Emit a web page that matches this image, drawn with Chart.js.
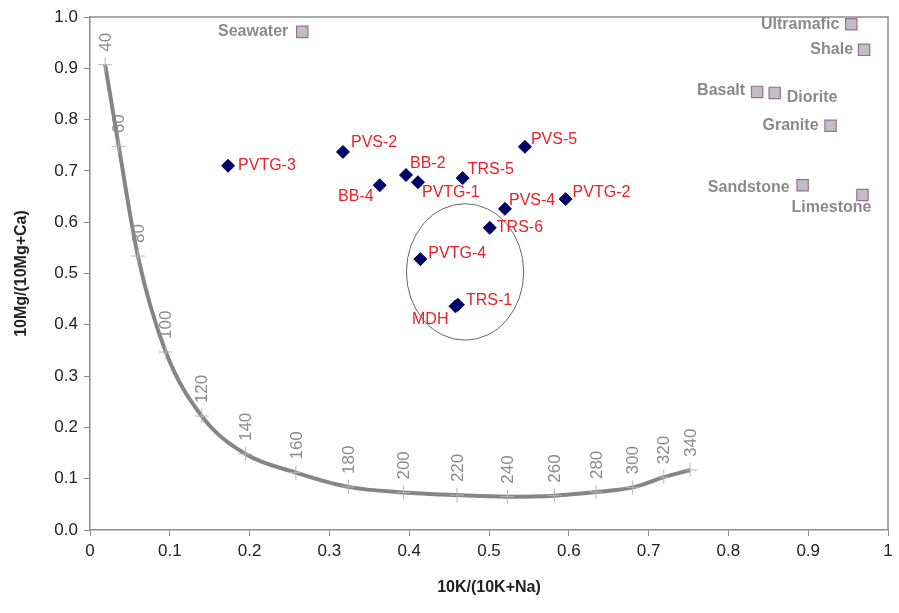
<!DOCTYPE html>
<html>
<head>
<meta charset="utf-8">
<script src="https://cdn.jsdelivr.net/npm/chart.js@4.4.1/dist/chart.umd.min.js"></script>
<style>
  html, body { margin: 0; padding: 0; background: #fff; }
  #wrap { width: 899px; height: 613px; }
</style>
</head>
<body>
<div id="wrap"><canvas id="c" width="899" height="613"></canvas></div>
<script>
// samples (navy diamonds)
const sampleNames = ["PVTG-3", "PVS-2", "BB-4", "BB-2", "PVTG-1", "TRS-5", "PVS-5", "PVS-4", "PVTG-2", "TRS-6", "PVTG-4", "TRS-1", "MDH"];
const sampleX = [0.173, 0.317, 0.363, 0.396, 0.411, 0.467, 0.545, 0.520, 0.596, 0.501, 0.414, 0.461, 0.458];
const sampleY = [0.710, 0.737, 0.672, 0.692, 0.678, 0.686, 0.747, 0.626, 0.645, 0.589, 0.528, 0.439, 0.436];

// reference rocks / waters (grey squares)
const refNames = ["Seawater", "Ultramafic", "Shale", "Basalt", "Diorite", "Granite", "Sandstone", "Limestone"];
const refX = [0.266, 0.954, 0.970, 0.836, 0.858, 0.928, 0.893, 0.968];
const refY = [0.971, 0.986, 0.936, 0.854, 0.852, 0.788, 0.672, 0.653];

// geothermometer curve (temperature, degC)
const tempLabels = [40, 60, 80, 100, 120, 140, 160, 180, 200, 220, 240, 260, 280, 300, 320, 340];
const curveX = [0.019, 0.036, 0.060, 0.095, 0.140, 0.195, 0.258, 0.324, 0.393, 0.460, 0.523, 0.582, 0.634, 0.680, 0.719, 0.752];
const curveY = [0.907, 0.748, 0.534, 0.347, 0.222, 0.148, 0.112, 0.084, 0.073, 0.068, 0.065, 0.067, 0.074, 0.083, 0.103, 0.117];

const xTicks = [0, 0.1, 0.2, 0.3, 0.4, 0.5, 0.6, 0.7, 0.8, 0.9, 1];

// label placement: [dx, dy, align]
const sampleLabelPos = [
  [10, 0, "left"], [8, -9, "left"], [-6, 11, "right"], [4, -11, "left"], [4, 10, "left"],
  [5, -8, "left"], [6, -7, "left"], [4, -8, "left"], [7, -7, "left"], [7, 0, "left"],
  [8, -6, "left"], [8, -4, "left"], [-7, 13, "right"]
];
const refLabelPos = [
  [-14, 0, "right"], [-12, 0, "right"], [-11, 0, "right"], [-12, -1, "right"],
  [12, 5, "left"], [-12, 0, "right"], [-13, 2, "right"], [-71, 13, "left"]
];

const pts = (xs, ys) => xs.map((x, i) => ({ x: x, y: ys[i] }));

const labelPlugin = {
  id: "labels",
  afterDatasetsDraw(chart) {
    const ctx = chart.ctx;
    const xs = chart.scales.x, ys = chart.scales.y;
    const ca = chart.chartArea;
    ctx.save();
    // plot frame
    ctx.strokeStyle = "#8c8c8c";
    ctx.lineWidth = 1.5;
    ctx.beginPath();
    ctx.moveTo(ca.left, ca.top);
    ctx.lineTo(ca.right, ca.top);
    ctx.lineTo(ca.right, ca.bottom);
    ctx.stroke();

    // circle around the sample cluster
    ctx.strokeStyle = "#666";
    ctx.lineWidth = 1;
    ctx.beginPath();
    const cx = xs.getPixelForValue(0.470), cy = ys.getPixelForValue(0.503);
    const rx = xs.getPixelForValue(0.470 + 0.0735) - cx;
    const ry = cy - ys.getPixelForValue(0.503 + 0.133);
    ctx.ellipse(cx, cy, rx, ry, 0, 0, Math.PI * 2);
    ctx.stroke();

    ctx.textBaseline = "middle";
    // sample labels
    ctx.font = "16px 'Liberation Sans', Arial, sans-serif";
    ctx.fillStyle = "#e8212b";
    sampleNames.forEach((n, i) => {
      const p = sampleLabelPos[i];
      ctx.textAlign = p[2];
      ctx.fillText(n, xs.getPixelForValue(sampleX[i]) + p[0], ys.getPixelForValue(sampleY[i]) + p[1]);
    });
    // reference labels
    ctx.font = "bold 16px 'Liberation Sans', Arial, sans-serif";
    ctx.fillStyle = "#8a8a8a";
    refNames.forEach((n, i) => {
      const p = refLabelPos[i];
      ctx.textAlign = p[2];
      ctx.fillText(n, xs.getPixelForValue(refX[i]) + p[0], ys.getPixelForValue(refY[i]) + p[1]);
    });
    // temperature labels along the curve
    ctx.font = "17px 'Liberation Sans', Arial, sans-serif";
    ctx.fillStyle = "#8a8a8a";
    ctx.textAlign = "left";
    tempLabels.forEach((t, i) => {
      const px = xs.getPixelForValue(curveX[i]) + 1;
      const py = ys.getPixelForValue(curveY[i]) - 13;
      ctx.save();
      ctx.translate(px, py);
      ctx.rotate(-Math.PI / 2);
      ctx.fillText(String(t), 0, 0);
      ctx.restore();
    });
    ctx.restore();
  }
};

new Chart(document.getElementById("c"), {
  type: "scatter",
  data: {
    datasets: [
      {
        label: "curve",
        data: pts(curveX, curveY),
        showLine: true,
        cubicInterpolationMode: "monotone",
        borderColor: "#858585",
        borderWidth: 4,
        pointStyle: "cross",
        pointRadius: 7,
        pointBorderColor: "#b4b4b4",
        pointBorderWidth: 1,
        pointBackgroundColor: "#b4b4b4"
      },
      {
        label: "samples",
        data: pts(sampleX, sampleY),
        pointStyle: "rectRot",
        pointRadius: 6.5,
        pointBackgroundColor: "#000066",
        pointBorderColor: "#000066",
        pointBorderWidth: 1
      },
      {
        label: "references",
        data: pts(refX, refY),
        pointStyle: "rect",
        pointRadius: 8,
        pointBackgroundColor: "#c0c0c0",
        pointBorderColor: "#9c6a9c",
        pointBorderWidth: 1.2
      }
    ]
  },
  options: {
    responsive: false,
    animation: false,
    layout: { padding: { top: 17, right: 11, left: 8, bottom: 12 } },
    plugins: { legend: { display: false }, tooltip: { enabled: false } },
    scales: {
      x: {
        type: "linear",
        min: 0, max: 1,
        afterBuildTicks: s => { s.ticks = xTicks.map(v => ({ value: v })); },
        afterFit: s => { s.height = 71; },
        grid: { drawOnChartArea: false, color: "#8c8c8c", tickLength: 6 },
        border: { color: "#8c8c8c", width: 1.5 },
        ticks: {
          color: "#222",
          padding: 5,
          font: { family: "'Liberation Sans', Arial", size: 17 },
          callback: v => String(v)
        },
        title: {
          display: true,
          text: "10K/(10K+Na)",
          color: "#222",
          padding: { top: 4 },
          font: { family: "'Liberation Sans', Arial", size: 16, weight: "bold" }
        }
      },
      y: {
        type: "linear",
        min: 0, max: 1,
        afterFit: s => { s.width = 82; },
        grid: { drawOnChartArea: false, color: "#8c8c8c", tickLength: 6 },
        border: { color: "#8c8c8c", width: 1.5 },
        ticks: {
          stepSize: 0.1,
          color: "#222",
          padding: 6,
          font: { family: "'Liberation Sans', Arial", size: 17 },
          callback: v => v.toFixed(1)
        },
        title: {
          display: true,
          text: "10Mg/(10Mg+Ca)",
          color: "#222",
          padding: { bottom: 4 },
          font: { family: "'Liberation Sans', Arial", size: 16, weight: "bold" }
        }
      }
    }
  },
  plugins: [labelPlugin]
});
</script>
</body>
</html>
